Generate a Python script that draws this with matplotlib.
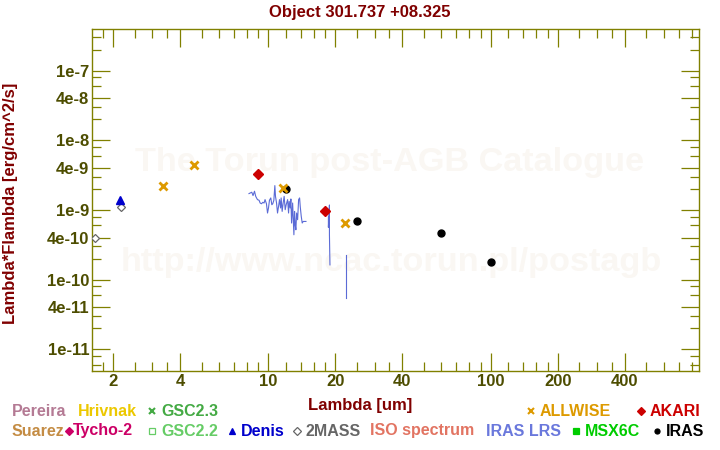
import matplotlib
matplotlib.use('Agg')
import matplotlib.pyplot as plt
from matplotlib.lines import Line2D
from matplotlib.ticker import NullFormatter

plt.rcParams['font.family'] = ['Liberation Sans', 'DejaVu Sans']
plt.rcParams['font.weight'] = 'bold'

W, H = 720, 450

# photometry (um, erg/cm^2/s)
twomass_lam = [1.662, 2.159]
twomass_flux = [4.0e-10, 1.09e-9]
denis_lam = [2.15]
denis_flux = [1.38e-9]
allwise_lam = [3.35, 4.6, 11.6, 22.1]
allwise_flux = [2.19e-9, 4.38e-9, 2.05e-9, 6.44e-10]
akari_lam = [9.0, 18.0]
akari_flux = [3.26e-9, 9.57e-10]
iras_lam = [12, 25, 60, 100]
iras_flux = [1.98e-9, 6.89e-10, 4.62e-10, 1.77e-10]

# IRAS LRS spectrum
lrs_lam = [8.17, 8.41, 8.52, 8.65, 8.76, 8.92, 9.07, 9.17, 9.30, 9.43,
           9.55, 9.65, 9.79, 9.90, 10.0, 10.10, 10.24, 10.35, 10.45, 10.57,
           10.68, 10.75, 10.87, 10.98, 11.10, 11.21, 11.33, 11.40, 11.52, 11.64,
           11.76, 11.89, 12.01, 12.19, 12.31, 12.39, 12.52, 12.61, 12.70, 12.84,
           12.91, 13.01, 13.10, 13.19, 13.28, 13.38, 13.52, 13.66, 13.80, 13.89,
           14.04, 14.18, 14.33, 14.74]
lrs_flux = [1.72e-9, 1.80e-9, 1.61e-9, 1.86e-9, 1.57e-9, 1.41e-9, 1.38e-9, 1.26e-9, 1.23e-9, 1.29e-9,
            1.26e-9, 1.41e-9, 1.23e-9, 9.05e-10, 1.07e-9, 1.38e-9, 1.49e-9, 1.19e-9, 1.23e-9, 1.38e-9,
            2.24e-9, 1.57e-9, 1.26e-9, 9.05e-10, 1.13e-9, 1.41e-9, 1.07e-9, 1.49e-9, 9.55e-10, 1.26e-9,
            1.57e-9, 1.01e-9, 1.19e-9, 1.41e-9, 9.05e-10, 1.33e-9, 1.07e-9, 1.44e-9, 6.50e-10, 1.26e-9,
            8.09e-10, 4.41e-10, 9.55e-10, 6.14e-10, 5.20e-10, 9.05e-10, 7.25e-10, 1.41e-9, 1.49e-9, 1.13e-9,
            8.09e-10, 6.50e-10, 6.85e-10, 6.85e-10]
lrs_red1_lam = [18.6, 18.6, 18.8, 18.8, 18.9]
lrs_red1_flux = [8.0e-10, 5.65e-10, 1.18e-9, 4.4e-10, 1.63e-10]
lrs_red2_lam = [22.4, 22.4]
lrs_red2_flux = [2.26e-10, 5.46e-11]

# axis ticks
x_major = [2, 4, 10, 20, 40, 100, 200, 400]
x_labels = ['2', '4', '10', '20', '40', '100', '200', '400']
x_minor = [1.8, 2.5, 3, 3.5, 5, 6, 7, 8, 9,
           12, 14, 16, 18, 25, 30, 35, 50, 60, 70, 80, 90,
           120, 140, 160, 180, 250, 300, 350, 500, 600, 700, 800]
y_major = [1e-11, 4e-11, 1e-10, 4e-10, 1e-9, 4e-9, 1e-8, 4e-8, 1e-7]
y_labels = ['1e-11', '4e-11', '1e-10', '4e-10', '1e-9', '4e-9', '1e-8', '4e-8', '1e-7']
y_minor = [6e-12, 8e-12, 2e-11, 3e-11, 6e-11, 8e-11, 2e-10, 3e-10, 6e-10, 8e-10,
           2e-9, 3e-9, 6e-9, 8e-9, 2e-8, 3e-8, 6e-8, 8e-8, 2e-7, 3e-7]

# legend: (text, colour, marker, marker filled)
legend_row1 = [('Pereira', '#b47a94', None, True),
               ('Hrivnak', '#ecc800', None, True),
               ('GSC2.3', '#44aa44', 'x', True)]
legend_row1_right = [('ALLWISE', '#dd9a00', 'x', True),
                     ('AKARI', '#cc0000', 'D', True)]
legend_row2 = [('Suarez', '#c48c44', None, True),
               ('Tycho-2', '#cc0066', 'D', True),
               ('GSC2.2', '#66cc66', 's', False),
               ('Denis', '#0000cc', '^', True),
               ('2MASS', '#666666', 'D', False),
               ('ISO spectrum', '#e27462', None, True),
               ('IRAS LRS', '#6a78dc', None, True),
               ('MSX6C', '#00cc00', 's', True),
               ('IRAS', '#000000', 'o', True)]
row1_x = [11.7, 78, 161]
row1_right_x = [540, 650]
row2_x = [11.7, 72.7, 161, 240.7, 306, 370, 486, 585, 666]

olive = '#808000'
ticklab = '#4d4d00'
darkred = '#800000'

fig = plt.figure(figsize=(W / 100, H / 100), dpi=100)
ax = fig.add_axes([92.3 / W, 1 - 370.7 / H, 607 / W, 341.4 / H])
ax.set_xscale('log')
ax.set_yscale('log')
ax.set_xlim(1.612, 867)
ax.set_ylim(4.93e-12, 3.93e-7)

ax.plot(lrs_lam, lrs_flux, color='#5b6bd6', lw=0.8, zorder=2)
ax.plot(lrs_red1_lam, lrs_red1_flux, color='#5b6bd6', lw=0.8, zorder=2)
ax.plot(lrs_red2_lam, lrs_red2_flux, color='#5b6bd6', lw=0.8, zorder=2)

ax.plot(twomass_lam, twomass_flux, ls='none', marker='D', ms=3.8, mfc='white',
        mec='#666666', mew=0.9, zorder=3)
ax.plot(denis_lam, denis_flux, ls='none', marker='^', ms=5.2, color='#0000cc', zorder=3)
ax.plot(allwise_lam, allwise_flux, ls='none', marker='x', ms=5.6, mew=2.0,
        color='#dd9a00', zorder=4)
ax.plot(akari_lam, akari_flux, ls='none', marker='D', ms=4.6, color='#cc0000', zorder=3)
ax.plot(iras_lam, iras_flux, ls='none', marker='o', ms=5, color='black', zorder=3)

# faint watermark
ax.text(0.4888, 0.6084, 'The Torun post-AGB Catalogue', transform=ax.transAxes,
        ha='center', va='center', fontsize=24.7, color='#faf7f3', zorder=0)
ax.text(0.492, 0.3155, 'http://www.ncac.torun.pl/postagb', transform=ax.transAxes,
        ha='center', va='center', fontsize=24.7, color='#faf7f3', zorder=0)

ax.set_xticks(x_major, labels=x_labels)
ax.set_xticks(x_minor, minor=True)
ax.set_yticks(y_major, labels=y_labels)
ax.set_yticks(y_minor, minor=True)
ax.xaxis.set_minor_formatter(NullFormatter())
ax.yaxis.set_minor_formatter(NullFormatter())
ax.tick_params(which='both', direction='in', top=True, right=True,
               color=olive, width=0.9, labelcolor=ticklab, labelsize=12)
ax.tick_params(which='major', length=13)
ax.tick_params(which='minor', length=6.5)
ax.tick_params(axis='y', pad=2.2)
ax.tick_params(axis='x', pad=2.6)
for s in ax.spines.values():
    s.set_color(olive)
    s.set_linewidth(1.0)

fig.text(0.5, 1 - 17 / H, 'Object 301.737 +08.325', ha='center', va='baseline',
         fontsize=12, color=darkred)
fig.text(0.5, 1 - 410 / H, 'Lambda [um]', ha='center', va='baseline',
         fontsize=12, color=darkred)
fig.text(11 / W, 1 - 203 / H, 'Lambda*Flambda [erg/cm^2/s]', ha='center', va='center',
         rotation=90, fontsize=12, color=darkred)


def legend_row(items, xs, y_base):
    for (txt, col, mk, filled), x in zip(items, xs):
        fig.text(x / W, 1 - y_base / H, txt, ha='left', va='baseline',
                 fontsize=11.5, color=col)
        if mk is not None:
            mx = x - 9 if mk != 'D' or txt != 'Tycho-2' else x - 4
            ms = 4.4 if mk in ('x', 's', '^') else 3.6
            fig.add_artist(Line2D([mx / W], [1 - (y_base - 5) / H], marker=mk, ms=ms,
                                  mew=1.5 if mk == 'x' else 0.9,
                                  color=col, mfc=col if filled else 'white',
                                  ls='none', transform=fig.transFigure))


legend_row(legend_row1, row1_x, 415.5)
legend_row(legend_row1_right, row1_right_x, 415.5)
legend_row(legend_row2, row2_x, 435.5)

fig.savefig('out.png', dpi=100)
